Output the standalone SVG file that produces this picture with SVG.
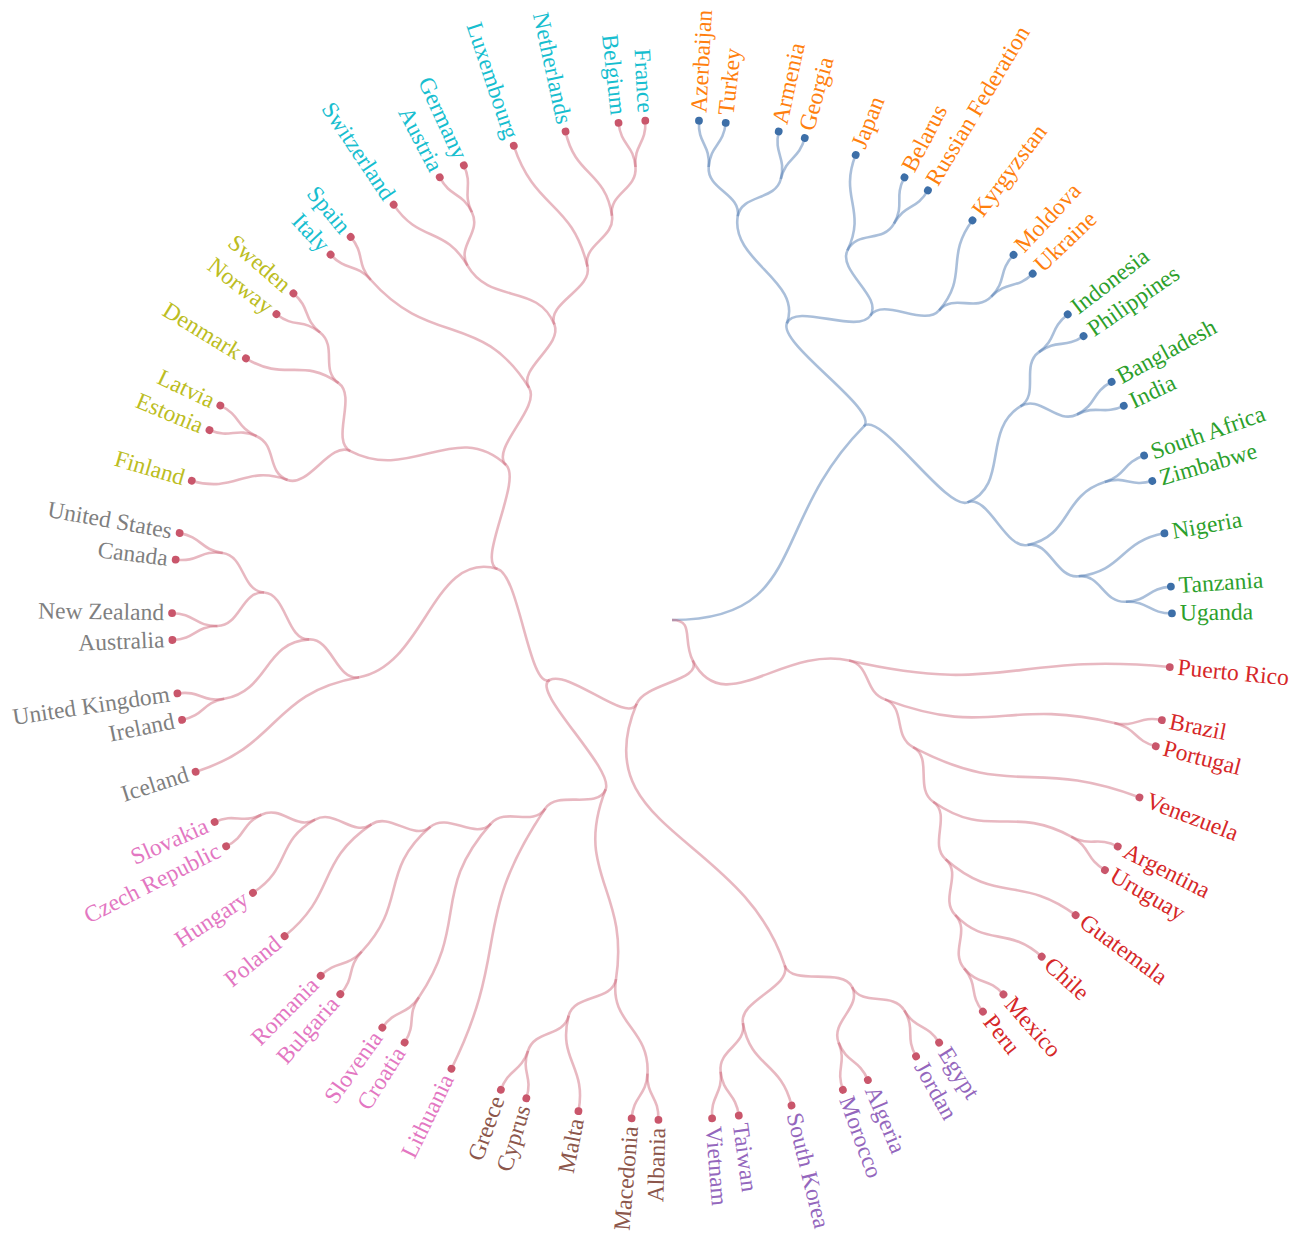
<svg xmlns="http://www.w3.org/2000/svg" width="1304" height="1234" viewBox="0 0 1304 1234">
<style>
.lr{fill:none;stroke:#c8566c;stroke-opacity:.42;stroke-width:2.6}
.lb{fill:none;stroke:#4a78b0;stroke-opacity:.47;stroke-width:2.6}
.dr{fill:#c9566b}
.db{fill:#3d6fa8}
circle{r:3.9px}
text{font-family:"Liberation Serif","Times New Roman",serif;font-size:23.5px}
.e{text-anchor:end}
.cr{fill:#d62728}.cp{fill:#9467bd}.cb{fill:#8c564b}.ck{fill:#e377c2}.cg{fill:#7f7f7f}.co{fill:#bcbd22}.cc{fill:#17becf}.cn{fill:#ff7f0e}.cgr{fill:#2ca02c}
</style>
<rect width="1304" height="1234" fill="#fff"/>
<g transform="translate(672,620)">
<g id="connectors">
<g id="links-blue" class="lb">
<path d="M0,0C136.4,0 95.9,-96.9 191.9,-193.7"/>
<path d="M191.9,-193.7C207.9,-209.9 106.6,-275.3 114.8,-296.5"/>
<path d="M191.9,-193.7C207.9,-209.9 274.3,-109.2 295.4,-117.6"/>
<path d="M114.8,-296.5C131.2,-338.9 58.4,-358.7 65.7,-403.6"/>
<path d="M114.8,-296.5C123,-317.7 186,-285.4 198.4,-304.4"/>
<path d="M65.7,-403.6C69.4,-426 34.9,-430.3 36.7,-453"/>
<path d="M65.7,-403.6C69.4,-426 103.4,-419 108.8,-441"/>
<path d="M36.7,-453C38.5,-475.6 25.7,-476.2 27,-498.8"/>
<path d="M36.7,-453C38.5,-475.6 51.3,-474.2 53.7,-496.8"/>
<path d="M108.8,-441C114.3,-463.1 101.8,-465.8 106.6,-488"/>
<path d="M108.8,-441C114.3,-463.1 126.7,-460 132.7,-481.9"/>
<path d="M198.4,-304.4C210.8,-323.4 165.7,-348.9 175.4,-369.5"/>
<path d="M198.4,-304.4C210.8,-323.4 252.3,-292.4 267.1,-309.6"/>
<path d="M175.4,-369.5C194.9,-410.5 166.9,-422.4 183.5,-464.7"/>
<path d="M175.4,-369.5C185.2,-390 210.9,-376.6 222,-396.4"/>
<path d="M222,-396.4C233.1,-416.2 221.7,-422.2 232.3,-442.3"/>
<path d="M222,-396.4C233.1,-416.2 244.2,-409.8 255.8,-429.3"/>
<path d="M267.1,-309.6C296.8,-344 272.9,-363 300.2,-399.3"/>
<path d="M267.1,-309.6C281.9,-326.8 303.3,-307.2 319.3,-323.4"/>
<path d="M319.3,-323.4C335.2,-339.6 325.8,-348.2 341.3,-364.8"/>
<path d="M319.3,-323.4C335.2,-339.6 344.1,-330.3 360.5,-346"/>
<path d="M295.4,-117.6C337.5,-134.4 309.7,-190 348.4,-213.7"/>
<path d="M295.4,-117.6C316.5,-126 333.3,-70.3 355.5,-75"/>
<path d="M348.4,-213.7C367.8,-225.6 348.5,-254.5 366.9,-267.9"/>
<path d="M348.4,-213.7C367.8,-225.6 384.7,-195.3 405,-205.5"/>
<path d="M366.9,-267.9C385.2,-281.3 377.4,-291.4 395.4,-305.3"/>
<path d="M366.9,-267.9C385.2,-281.3 392.8,-271 411.5,-283.9"/>
<path d="M405,-205.5C425.2,-215.8 419.3,-227.2 439.3,-238"/>
<path d="M405,-205.5C425.2,-215.8 431.1,-204.4 451.7,-214.2"/>
<path d="M355.5,-75C399.9,-84.3 389.4,-124.1 432.7,-137.9"/>
<path d="M355.5,-75C377.7,-79.7 383.9,-41.3 406.5,-43.7"/>
<path d="M432.7,-137.9C454.3,-144.8 450.5,-157 471.9,-164.5"/>
<path d="M432.7,-137.9C454.3,-144.8 458.2,-132.6 480,-138.9"/>
<path d="M406.5,-43.7C451.6,-48.6 447.7,-78.8 492.4,-86.7"/>
<path d="M406.5,-43.7C429.1,-46.1 431.1,-17.3 453.8,-18.2"/>
<path d="M453.8,-18.2C476.4,-19.1 475.9,-31.9 498.5,-33.4"/>
<path d="M453.8,-18.2C476.4,-19.1 477.2,-6.3 500,-6.6"/>
</g>
<g id="links-red" class="lr">
<path d="M0,0C22.7,0 10.3,20.2 20.7,40.4"/>
<path d="M20.7,40.4C51.7,101.1 110.7,25.4 177.1,40.6"/>
<path d="M20.7,40.4C31,60.7 -26.5,62.8 -35.3,83.7"/>
<path d="M-35.3,83.7C-44.2,104.6 -101.9,50 -122.3,60"/>
<path d="M-35.3,83.7C-88.4,209.2 70.4,215.9 112.7,345.4"/>
<path d="M-122.3,60C-142.7,70 -152.6,-44.7 -174.4,-51.1"/>
<path d="M-122.3,60C-142.7,70 -58,148 -66.3,169.2"/>
<path d="M-174.4,-51.1C-239.7,-70.3 -245.9,45 -312.9,57.3"/>
<path d="M-174.4,-51.1C-196.1,-57.5 -149.4,-139.5 -165.9,-155"/>
<path d="M-66.3,169.2C-74.5,190.3 -114,169.6 -126.7,188.5"/>
<path d="M-66.3,169.2C-99.4,253.8 -42,269.3 -56,359.1"/>
<path d="M177.1,40.6C332,76.2 339.3,32.1 497.6,47"/>
<path d="M177.1,40.6C199.2,45.7 191.6,71.4 212.9,79.4"/>
<path d="M212.9,79.4C319.3,119.1 331.8,77.2 442.3,102.9"/>
<path d="M212.9,79.4C234.2,87.3 220.9,116.5 241,127.1"/>
<path d="M442.3,102.9C464.5,108 467.2,95.5 489.5,100.1"/>
<path d="M442.3,102.9C464.5,108 461.7,120.5 483.7,126.3"/>
<path d="M241,127.1C341.5,180.1 361,137 467.2,177.3"/>
<path d="M241,127.1C261.1,137.7 242.5,168.7 261.2,181.7"/>
<path d="M261.2,181.7C317.1,220.6 339.4,184.1 399.2,216.6"/>
<path d="M261.2,181.7C279.8,194.7 256.5,224.3 273.6,239.2"/>
<path d="M399.2,216.6C419.2,227.4 425.1,216 445.4,226.3"/>
<path d="M399.2,216.6C419.2,227.4 413.3,238.7 433,250.1"/>
<path d="M273.6,239.2C324.8,284.1 348.4,254.7 403.4,294.9"/>
<path d="M273.6,239.2C290.7,254.2 267.4,278.5 283.1,294.9"/>
<path d="M283.1,294.9C314.6,327.7 335.8,305.8 369.3,336.3"/>
<path d="M283.1,294.9C298.9,311.3 277.5,330.9 292.1,348.3"/>
<path d="M292.1,348.3C306.7,365.7 316.1,357.1 331.2,374.1"/>
<path d="M292.1,348.3C306.7,365.7 296.5,373.5 310.6,391.3"/>
<path d="M112.7,345.4C119.7,367 170.1,346.6 180.1,367"/>
<path d="M112.7,345.4C119.7,367 67,380.5 70.9,402.9"/>
<path d="M180.1,367C190.1,387.4 220.7,370.9 232.3,390.4"/>
<path d="M180.1,367C190.1,387.4 158.3,401.4 166.6,422.5"/>
<path d="M232.3,390.4C243.9,410 254.7,403.1 266.9,422.3"/>
<path d="M232.3,390.4C243.9,410 232.8,416.4 243.9,436.2"/>
<path d="M166.6,422.5C175,443.6 186.8,438.7 195.7,459.6"/>
<path d="M166.6,422.5C175,443.6 163.2,448.5 171,469.9"/>
<path d="M70.9,402.9C78.8,447.7 108.6,441.1 119.5,485.2"/>
<path d="M70.9,402.9C74.9,425.3 46.1,429.1 48.6,451.6"/>
<path d="M48.6,451.6C51,474.2 63.7,472.6 66.7,495.1"/>
<path d="M48.6,451.6C51,474.2 38.3,475.6 40.1,498.3"/>
<path d="M-56,359.1C-63,403.9 -22.1,408.1 -24.5,453.5"/>
<path d="M-56,359.1C-59.5,381.5 -97.6,373.7 -103.3,395.7"/>
<path d="M-103.3,395.7C-114.8,439.7 -85,446.3 -93.5,490.9"/>
<path d="M-103.3,395.7C-109,417.7 -136.8,409.2 -144,430.8"/>
<path d="M-144,430.8C-151.2,452.3 -138.9,456.2 -145.5,477.9"/>
<path d="M-144,430.8C-151.2,452.3 -163.4,448.4 -171.1,469.8"/>
<path d="M-24.5,453.5C-25.7,476.2 -12.9,476.7 -13.6,499.4"/>
<path d="M-24.5,453.5C-25.7,476.2 -38.5,475.6 -40.4,498.2"/>
<path d="M-126.7,188.5C-202.7,301.6 -160.3,326.2 -220.4,448.5"/>
<path d="M-126.7,188.5C-139.4,207.3 -166,186.7 -181.1,203.6"/>
<path d="M-181.1,203.6C-241.5,271.5 -202.5,301.8 -253.1,377.2"/>
<path d="M-181.1,203.6C-196.2,220.6 -224.4,192.1 -241.6,206.8"/>
<path d="M-241.6,206.8C-293.4,251.1 -263.7,281.9 -310.3,331.6"/>
<path d="M-241.6,206.8C-258.9,221.6 -281.8,191.6 -300.6,204.4"/>
<path d="M-300.6,204.4C-356.9,242.7 -334.4,272.9 -387.2,316"/>
<path d="M-300.6,204.4C-319.3,217.2 -337,188.5 -356.9,199.6"/>
<path d="M-356.9,199.6C-396.5,221.7 -380.6,247.8 -418.7,272.5"/>
<path d="M-356.9,199.6C-376.7,210.7 -390.1,185 -410.6,194.7"/>
<path d="M-410.6,194.7C-431.1,204.4 -425.2,215.8 -445.5,226.1"/>
<path d="M-410.6,194.7C-431.1,204.4 -436.3,192.7 -457.1,201.9"/>
<path d="M-310.3,331.6C-325.8,348.2 -316.3,356.9 -331.4,373.9"/>
<path d="M-310.3,331.6C-325.8,348.2 -335.2,339.6 -351.2,355.7"/>
<path d="M-253.1,377.2C-265.8,396.1 -255,402.9 -267.1,422.1"/>
<path d="M-253.1,377.2C-265.8,396.1 -276.4,388.9 -289.6,407.5"/>
<path d="M-312.9,57.3C-402.3,73.6 -389.4,124.1 -475.9,151.7"/>
<path d="M-312.9,57.3C-335.3,61.3 -340.1,18.2 -362.8,19.4"/>
<path d="M-362.8,19.4C-408.1,21.8 -402.9,70.9 -447.7,78.8"/>
<path d="M-362.8,19.4C-385.5,20.6 -385.2,-26 -407.9,-27.5"/>
<path d="M-407.9,-27.5C-430.6,-29.1 -431.8,5.7 -454.5,6"/>
<path d="M-407.9,-27.5C-430.6,-29.1 -426.8,-63.6 -449.2,-67"/>
<path d="M-447.7,78.8C-470,82.8 -471.7,70.1 -494.2,73.4"/>
<path d="M-447.7,78.8C-470,82.8 -467.3,95.3 -489.5,99.8"/>
<path d="M-454.5,6C-477.2,6.3 -477.2,-6.5 -500,-6.8"/>
<path d="M-454.5,6C-477.2,6.3 -476.4,19.1 -499.1,20"/>
<path d="M-449.2,-67C-471.7,-70.3 -473.4,-57.6 -495.9,-60.3"/>
<path d="M-449.2,-67C-471.7,-70.3 -470,-82.9 -492.4,-86.9"/>
<path d="M-165.9,-155C-215.7,-201.5 -261.3,-137.3 -321.6,-168.9"/>
<path d="M-165.9,-155C-182.5,-170.5 -131,-212.7 -142.9,-232.1"/>
<path d="M-321.6,-168.9C-341.7,-179.5 -363,-132.2 -384.4,-140"/>
<path d="M-321.6,-168.9C-341.7,-179.5 -314.9,-223.8 -333.4,-236.9"/>
<path d="M-384.4,-140C-427.1,-155.6 -436.3,-126.5 -479.9,-139.1"/>
<path d="M-384.4,-140C-405.7,-147.8 -394.7,-174.6 -415.4,-183.8"/>
<path d="M-415.4,-183.8C-436.2,-193 -441.1,-181.1 -462.1,-189.7"/>
<path d="M-415.4,-183.8C-436.2,-193 -431,-204.7 -451.6,-214.4"/>
<path d="M-333.4,-236.9C-370.4,-263.2 -387,-237.7 -425.7,-261.4"/>
<path d="M-333.4,-236.9C-351.9,-250.1 -334.3,-273.1 -351.9,-287.4"/>
<path d="M-351.9,-287.4C-369.4,-301.8 -377.2,-291.6 -395.2,-305.5"/>
<path d="M-351.9,-287.4C-369.4,-301.8 -361.2,-311.6 -378.4,-326.5"/>
<path d="M-142.9,-232.1C-190.5,-309.4 -240.9,-272 -301.1,-340"/>
<path d="M-142.9,-232.1C-154.8,-251.4 -109.2,-274.3 -117.6,-295.4"/>
<path d="M-117.6,-295.4C-134.4,-337.5 -181.7,-315 -204.5,-354.3"/>
<path d="M-117.6,-295.4C-126,-316.5 -79.2,-331.3 -84.5,-353.4"/>
<path d="M-301.1,-340C-316.1,-357 -325.6,-348.4 -341.1,-365"/>
<path d="M-301.1,-340C-316.1,-357 -306.7,-365.7 -321.3,-383.1"/>
<path d="M-204.5,-354.3C-227.2,-393.7 -252.9,-377.3 -278.2,-415.1"/>
<path d="M-204.5,-354.3C-215.8,-374 -190.1,-387.4 -200.1,-407.8"/>
<path d="M-200.1,-407.8C-210.1,-428.2 -221.5,-422.3 -232,-442.4"/>
<path d="M-200.1,-407.8C-210.1,-428.2 -198.6,-433.8 -208.1,-454.5"/>
<path d="M-84.5,-353.4C-100.3,-419.7 -136.5,-409.3 -158.1,-473.9"/>
<path d="M-84.5,-353.4C-89.8,-375.5 -56.7,-381.9 -60,-404.3"/>
<path d="M-60,-404.3C-66.7,-449.2 -96.7,-443.7 -106.4,-488.1"/>
<path d="M-60,-404.3C-63.4,-426.8 -34.6,-430.3 -36.5,-453"/>
<path d="M-36.5,-453C-38.3,-475.6 -51,-474.2 -53.4,-496.8"/>
<path d="M-36.5,-453C-38.3,-475.6 -25.5,-476.2 -26.7,-498.8"/>
</g>
</g>
<g id="nodes">
<g id="n-puerto-rico" transform="rotate(5.4)"><circle class="dr" cx="500" r="3.9"/><text class="cr" x="508" dy=".3em">Puerto Rico</text></g>
<g id="n-brazil" transform="rotate(11.554)"><circle class="dr" cx="500" r="3.9"/><text class="cr" x="508" dy=".3em">Brazil</text></g>
<g id="n-portugal" transform="rotate(14.631)"><circle class="dr" cx="500" r="3.9"/><text class="cr" x="508" dy=".3em">Portugal</text></g>
<g id="n-venezuela" transform="rotate(20.785)"><circle class="dr" cx="500" r="3.9"/><text class="cr" x="508" dy=".3em">Venezuela</text></g>
<g id="n-argentina" transform="rotate(26.938)"><circle class="dr" cx="500" r="3.9"/><text class="cr" x="508" dy=".3em">Argentina</text></g>
<g id="n-uruguay" transform="rotate(30.015)"><circle class="dr" cx="500" r="3.9"/><text class="cr" x="508" dy=".3em">Uruguay</text></g>
<g id="n-guatemala" transform="rotate(36.169)"><circle class="dr" cx="500" r="3.9"/><text class="cr" x="508" dy=".3em">Guatemala</text></g>
<g id="n-chile" transform="rotate(42.323)"><circle class="dr" cx="500" r="3.9"/><text class="cr" x="508" dy=".3em">Chile</text></g>
<g id="n-mexico" transform="rotate(48.477)"><circle class="dr" cx="500" r="3.9"/><text class="cr" x="508" dy=".3em">Mexico</text></g>
<g id="n-peru" transform="rotate(51.554)"><circle class="dr" cx="500" r="3.9"/><text class="cr" x="508" dy=".3em">Peru</text></g>
<g id="n-egypt" transform="rotate(57.708)"><circle class="dr" cx="500" r="3.9"/><text class="cp" x="508" dy=".3em">Egypt</text></g>
<g id="n-jordan" transform="rotate(60.785)"><circle class="dr" cx="500" r="3.9"/><text class="cp" x="508" dy=".3em">Jordan</text></g>
<g id="n-algeria" transform="rotate(66.938)"><circle class="dr" cx="500" r="3.9"/><text class="cp" x="508" dy=".3em">Algeria</text></g>
<g id="n-morocco" transform="rotate(70.015)"><circle class="dr" cx="500" r="3.9"/><text class="cp" x="508" dy=".3em">Morocco</text></g>
<g id="n-south-korea" transform="rotate(76.169)"><circle class="dr" cx="500" r="3.9"/><text class="cp" x="508" dy=".3em">South Korea</text></g>
<g id="n-taiwan" transform="rotate(82.323)"><circle class="dr" cx="500" r="3.9"/><text class="cp" x="508" dy=".3em">Taiwan</text></g>
<g id="n-vietnam" transform="rotate(85.4)"><circle class="dr" cx="500" r="3.9"/><text class="cp" x="508" dy=".3em">Vietnam</text></g>
<g id="n-albania" transform="rotate(91.554)"><circle class="dr" cx="500" r="3.9"/><text class="cb e" x="-508" dy=".3em" transform="rotate(180)">Albania</text></g>
<g id="n-macedonia" transform="rotate(94.631)"><circle class="dr" cx="500" r="3.9"/><text class="cb e" x="-508" dy=".3em" transform="rotate(180)">Macedonia</text></g>
<g id="n-malta" transform="rotate(100.785)"><circle class="dr" cx="500" r="3.9"/><text class="cb e" x="-508" dy=".3em" transform="rotate(180)">Malta</text></g>
<g id="n-cyprus" transform="rotate(106.938)"><circle class="dr" cx="500" r="3.9"/><text class="cb e" x="-508" dy=".3em" transform="rotate(180)">Cyprus</text></g>
<g id="n-greece" transform="rotate(110.015)"><circle class="dr" cx="500" r="3.9"/><text class="cb e" x="-508" dy=".3em" transform="rotate(180)">Greece</text></g>
<g id="n-lithuania" transform="rotate(116.169)"><circle class="dr" cx="500" r="3.9"/><text class="ck e" x="-508" dy=".3em" transform="rotate(180)">Lithuania</text></g>
<g id="n-croatia" transform="rotate(122.323)"><circle class="dr" cx="500" r="3.9"/><text class="ck e" x="-508" dy=".3em" transform="rotate(180)">Croatia</text></g>
<g id="n-slovenia" transform="rotate(125.4)"><circle class="dr" cx="500" r="3.9"/><text class="ck e" x="-508" dy=".3em" transform="rotate(180)">Slovenia</text></g>
<g id="n-bulgaria" transform="rotate(131.554)"><circle class="dr" cx="500" r="3.9"/><text class="ck e" x="-508" dy=".3em" transform="rotate(180)">Bulgaria</text></g>
<g id="n-romania" transform="rotate(134.631)"><circle class="dr" cx="500" r="3.9"/><text class="ck e" x="-508" dy=".3em" transform="rotate(180)">Romania</text></g>
<g id="n-poland" transform="rotate(140.785)"><circle class="dr" cx="500" r="3.9"/><text class="ck e" x="-508" dy=".3em" transform="rotate(180)">Poland</text></g>
<g id="n-hungary" transform="rotate(146.938)"><circle class="dr" cx="500" r="3.9"/><text class="ck e" x="-508" dy=".3em" transform="rotate(180)">Hungary</text></g>
<g id="n-czech-republic" transform="rotate(153.092)"><circle class="dr" cx="500" r="3.9"/><text class="ck e" x="-508" dy=".3em" transform="rotate(180)">Czech Republic</text></g>
<g id="n-slovakia" transform="rotate(156.169)"><circle class="dr" cx="500" r="3.9"/><text class="ck e" x="-508" dy=".3em" transform="rotate(180)">Slovakia</text></g>
<g id="n-iceland" transform="rotate(162.323)"><circle class="dr" cx="500" r="3.9"/><text class="cg e" x="-508" dy=".3em" transform="rotate(180)">Iceland</text></g>
<g id="n-ireland" transform="rotate(168.477)"><circle class="dr" cx="500" r="3.9"/><text class="cg e" x="-508" dy=".3em" transform="rotate(180)">Ireland</text></g>
<g id="n-united-kingdom" transform="rotate(171.554)"><circle class="dr" cx="500" r="3.9"/><text class="cg e" x="-508" dy=".3em" transform="rotate(180)">United Kingdom</text></g>
<g id="n-australia" transform="rotate(177.708)"><circle class="dr" cx="500" r="3.9"/><text class="cg e" x="-508" dy=".3em" transform="rotate(180)">Australia</text></g>
<g id="n-new-zealand" transform="rotate(180.785)"><circle class="dr" cx="500" r="3.9"/><text class="cg e" x="-508" dy=".3em" transform="rotate(180)">New Zealand</text></g>
<g id="n-canada" transform="rotate(186.938)"><circle class="dr" cx="500" r="3.9"/><text class="cg e" x="-508" dy=".3em" transform="rotate(180)">Canada</text></g>
<g id="n-united-states" transform="rotate(190.015)"><circle class="dr" cx="500" r="3.9"/><text class="cg e" x="-508" dy=".3em" transform="rotate(180)">United States</text></g>
<g id="n-finland" transform="rotate(196.169)"><circle class="dr" cx="500" r="3.9"/><text class="co e" x="-508" dy=".3em" transform="rotate(180)">Finland</text></g>
<g id="n-estonia" transform="rotate(202.323)"><circle class="dr" cx="500" r="3.9"/><text class="co e" x="-508" dy=".3em" transform="rotate(180)">Estonia</text></g>
<g id="n-latvia" transform="rotate(205.4)"><circle class="dr" cx="500" r="3.9"/><text class="co e" x="-508" dy=".3em" transform="rotate(180)">Latvia</text></g>
<g id="n-denmark" transform="rotate(211.554)"><circle class="dr" cx="500" r="3.9"/><text class="co e" x="-508" dy=".3em" transform="rotate(180)">Denmark</text></g>
<g id="n-norway" transform="rotate(217.708)"><circle class="dr" cx="500" r="3.9"/><text class="co e" x="-508" dy=".3em" transform="rotate(180)">Norway</text></g>
<g id="n-sweden" transform="rotate(220.785)"><circle class="dr" cx="500" r="3.9"/><text class="co e" x="-508" dy=".3em" transform="rotate(180)">Sweden</text></g>
<g id="n-italy" transform="rotate(226.938)"><circle class="dr" cx="500" r="3.9"/><text class="cc e" x="-508" dy=".3em" transform="rotate(180)">Italy</text></g>
<g id="n-spain" transform="rotate(230.015)"><circle class="dr" cx="500" r="3.9"/><text class="cc e" x="-508" dy=".3em" transform="rotate(180)">Spain</text></g>
<g id="n-switzerland" transform="rotate(236.169)"><circle class="dr" cx="500" r="3.9"/><text class="cc e" x="-508" dy=".3em" transform="rotate(180)">Switzerland</text></g>
<g id="n-austria" transform="rotate(242.323)"><circle class="dr" cx="500" r="3.9"/><text class="cc e" x="-508" dy=".3em" transform="rotate(180)">Austria</text></g>
<g id="n-germany" transform="rotate(245.4)"><circle class="dr" cx="500" r="3.9"/><text class="cc e" x="-508" dy=".3em" transform="rotate(180)">Germany</text></g>
<g id="n-luxembourg" transform="rotate(251.554)"><circle class="dr" cx="500" r="3.9"/><text class="cc e" x="-508" dy=".3em" transform="rotate(180)">Luxembourg</text></g>
<g id="n-netherlands" transform="rotate(257.708)"><circle class="dr" cx="500" r="3.9"/><text class="cc e" x="-508" dy=".3em" transform="rotate(180)">Netherlands</text></g>
<g id="n-belgium" transform="rotate(263.862)"><circle class="dr" cx="500" r="3.9"/><text class="cc e" x="-508" dy=".3em" transform="rotate(180)">Belgium</text></g>
<g id="n-france" transform="rotate(266.938)"><circle class="dr" cx="500" r="3.9"/><text class="cc e" x="-508" dy=".3em" transform="rotate(180)">France</text></g>
<g id="n-azerbaijan" transform="rotate(273.092)"><circle class="db" cx="500" r="3.9"/><text class="cn" x="508" dy=".3em">Azerbaijan</text></g>
<g id="n-turkey" transform="rotate(276.169)"><circle class="db" cx="500" r="3.9"/><text class="cn" x="508" dy=".3em">Turkey</text></g>
<g id="n-armenia" transform="rotate(282.323)"><circle class="db" cx="500" r="3.9"/><text class="cn" x="508" dy=".3em">Armenia</text></g>
<g id="n-georgia" transform="rotate(285.4)"><circle class="db" cx="500" r="3.9"/><text class="cn" x="508" dy=".3em">Georgia</text></g>
<g id="n-japan" transform="rotate(291.554)"><circle class="db" cx="500" r="3.9"/><text class="cn" x="508" dy=".3em">Japan</text></g>
<g id="n-belarus" transform="rotate(297.708)"><circle class="db" cx="500" r="3.9"/><text class="cn" x="508" dy=".3em">Belarus</text></g>
<g id="n-russian-federation" transform="rotate(300.785)"><circle class="db" cx="500" r="3.9"/><text class="cn" x="508" dy=".3em">Russian Federation</text></g>
<g id="n-kyrgyzstan" transform="rotate(306.938)"><circle class="db" cx="500" r="3.9"/><text class="cn" x="508" dy=".3em">Kyrgyzstan</text></g>
<g id="n-moldova" transform="rotate(313.092)"><circle class="db" cx="500" r="3.9"/><text class="cn" x="508" dy=".3em">Moldova</text></g>
<g id="n-ukraine" transform="rotate(316.169)"><circle class="db" cx="500" r="3.9"/><text class="cn" x="508" dy=".3em">Ukraine</text></g>
<g id="n-indonesia" transform="rotate(322.323)"><circle class="db" cx="500" r="3.9"/><text class="cgr" x="508" dy=".3em">Indonesia</text></g>
<g id="n-philippines" transform="rotate(325.4)"><circle class="db" cx="500" r="3.9"/><text class="cgr" x="508" dy=".3em">Philippines</text></g>
<g id="n-bangladesh" transform="rotate(331.554)"><circle class="db" cx="500" r="3.9"/><text class="cgr" x="508" dy=".3em">Bangladesh</text></g>
<g id="n-india" transform="rotate(334.631)"><circle class="db" cx="500" r="3.9"/><text class="cgr" x="508" dy=".3em">India</text></g>
<g id="n-south-africa" transform="rotate(340.785)"><circle class="db" cx="500" r="3.9"/><text class="cgr" x="508" dy=".3em">South Africa</text></g>
<g id="n-zimbabwe" transform="rotate(343.862)"><circle class="db" cx="500" r="3.9"/><text class="cgr" x="508" dy=".3em">Zimbabwe</text></g>
<g id="n-nigeria" transform="rotate(350.015)"><circle class="db" cx="500" r="3.9"/><text class="cgr" x="508" dy=".3em">Nigeria</text></g>
<g id="n-tanzania" transform="rotate(356.169)"><circle class="db" cx="500" r="3.9"/><text class="cgr" x="508" dy=".3em">Tanzania</text></g>
<g id="n-uganda" transform="rotate(359.246)"><circle class="db" cx="500" r="3.9"/><text class="cgr" x="508" dy=".3em">Uganda</text></g>
</g>
</g>
</svg>
